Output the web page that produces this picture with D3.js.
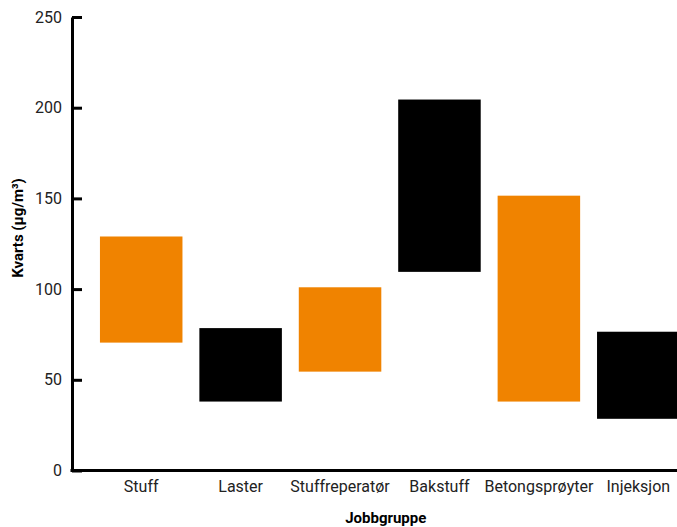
<!DOCTYPE html>
<html lang="no">
<head>
<meta charset="utf-8">
<title>Kvarts per jobbgruppe</title>
<script src="https://d3js.org/d3.v7.min.js"></script>
<style>
  body { margin: 0; background: #fff; }
  text { font-family: Roboto, sans-serif; fill: #222; }
</style>
</head>
<body>
<div id="main"></div>
<script>
// data
var groups = ["Stuff", "Laster", "Stuffreperatør", "Bakstuff", "Betongsprøyter", "Injeksjon"];
var lows   = [70.5, 38, 54.5, 109.5, 38, 28.5];
var highs  = [129, 78.5, 101, 204.5, 151.5, 76.5];
var colors = ["#f08300", "#000000", "#f08300", "#000000", "#f08300", "#000000"];
var yTicks = [0, 50, 100, 150, 200, 250];

var w = 677, h = 527;

var svg = d3.select("#main").append("svg")
  .attr("width", w)
  .attr("height", h);

var x = d3.scaleBand()
  .domain(groups)
  .range([91.5, 688])
  .paddingInner(0.17)
  .paddingOuter(0.085);

var y = d3.scaleLinear()
  .domain([0, 250])
  .range([470.5, 17]);

// bars
svg.selectAll("rect.bar")
  .data(groups)
  .enter()
  .append("rect")
  .attr("class", "bar")
  .attr("x", function(d) { return x(d); })
  .attr("width", x.bandwidth())
  .attr("y", function(d, i) { return y(highs[i]); })
  .attr("height", function(d, i) { return y(lows[i]) - y(highs[i]); })
  .attr("fill", function(d, i) { return colors[i]; });

// y axis
var yAxis = svg.append("g")
  .attr("transform", "translate(72,0)")
  .call(d3.axisRight(y).tickValues(yTicks).tickSize(10).tickSizeOuter(0));
yAxis.select(".domain").attr("stroke", "#000").attr("stroke-width", 3);
yAxis.selectAll(".tick line").attr("stroke", "#000").attr("stroke-width", 3);
yAxis.selectAll(".tick text")
  .attr("x", -10)
  .attr("text-anchor", "end")
  .style("font-size", "16px");

// x axis
var xAxis = svg.append("g")
  .attr("transform", "translate(0,470.5)")
  .call(d3.axisBottom(x).tickSize(0).tickSizeOuter(0));
xAxis.select(".domain")
  .attr("d", "M70.5,0H" + w)
  .attr("stroke", "#000").attr("stroke-width", 3);
xAxis.selectAll(".tick text")
  .attr("y", 10)
  .style("font-size", "16px");

// axis titles
svg.append("text")
  .attr("x", x(groups[0]) + (x(groups[5]) + x.bandwidth() - x(groups[0])) / 2 - 4)
  .attr("y", 523)
  .attr("text-anchor", "middle")
  .style("font-size", "15px")
  .style("font-weight", "bold")
  .style("fill", "#000")
  .text("Jobbgruppe");

svg.append("text")
  .attr("transform", "translate(23,228) rotate(-90)")
  .attr("text-anchor", "middle")
  .style("font-size", "15px")
  .style("font-weight", "bold")
  .style("fill", "#000")
  .text("Kvarts (µg/m³)");
</script>
</body>
</html>
